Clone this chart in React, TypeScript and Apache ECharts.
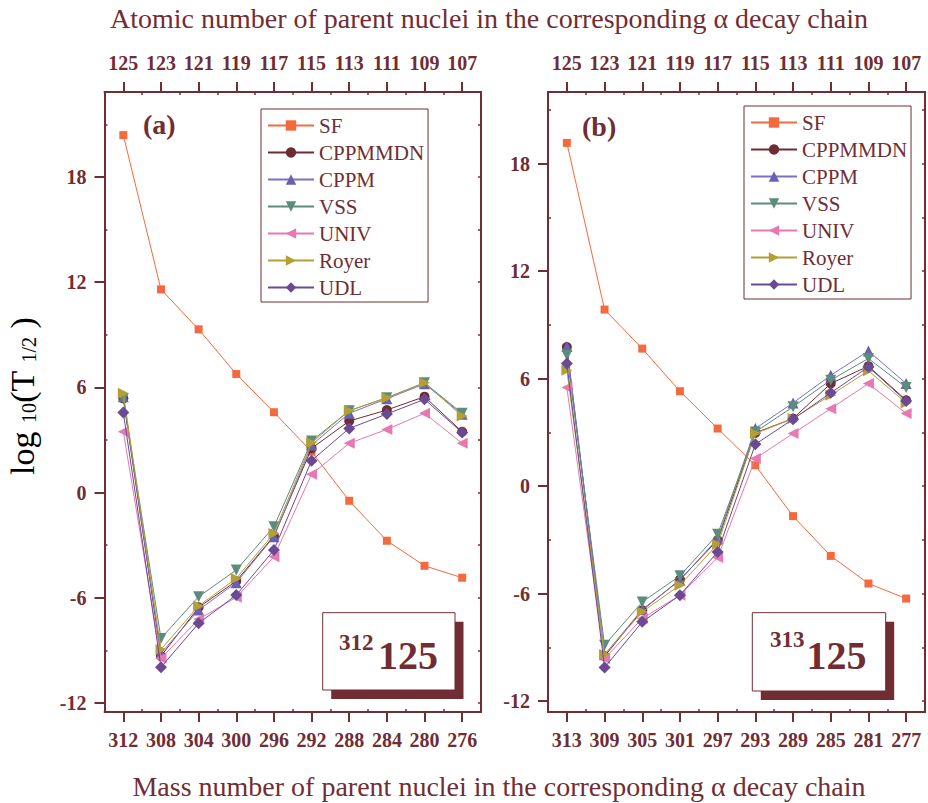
import React, { useEffect, useRef } from 'react';
import * as echarts from 'echarts';

// Categories
const massA = [312, 308, 304, 300, 296, 292, 288, 284, 280, 276];
const massB = [313, 309, 305, 301, 297, 293, 289, 285, 281, 277];
const atomic = [125, 123, 121, 119, 117, 115, 113, 111, 109, 107];
const seriesNames = ['SF', 'CPPMMDN', 'CPPM', 'VSS', 'UNIV', 'Royer', 'UDL'];

// Panel (a) values: log10(T1/2)
const sfA = [20.39, 11.59, 9.31, 6.76, 4.58, 2.33, -0.47, -2.75, -4.18, -4.86];
const cppmmdnA = [5.37, -9.33, -6.55, -5.05, -2.48, 2.52, 4.08, 4.71, 5.47, 3.47];
const cppmA = [5.47, -9.17, -6.7, -5.14, -2.52, 2.71, 4.52, 5.35, 6.2, 4.46];
const vssA = [5.37, -8.32, -5.94, -4.42, -1.95, 2.94, 4.67, 5.41, 6.26, 4.52];
const univA = [3.47, -9.46, -7.23, -5.98, -3.66, 1.04, 2.81, 3.6, 4.52, 2.81];
const royerA = [5.66, -8.95, -6.47, -4.9, -2.33, 2.84, 4.67, 5.41, 6.26, 4.36];
const udlA = [4.57, -9.97, -7.46, -5.85, -3.28, 1.82, 3.66, 4.48, 5.32, 3.42];

// Panel (b) values
const sfB = [19.16, 9.86, 7.68, 5.3, 3.22, 1.17, -1.67, -3.89, -5.43, -6.27];
const cppmmdnB = [7.77, -9.49, -6.92, -5.21, -3.01, 2.98, 3.78, 5.73, 6.7, 4.8];
const cppmB = [7.8, -9.4, -6.88, -5.25, -2.92, 3.22, 4.65, 6.19, 7.55, 5.73];
const vssB = [7.31, -8.87, -6.46, -5.0, -2.68, 3.03, 4.43, 5.92, 7.13, 5.51];
const univB = [5.51, -9.62, -7.38, -6.08, -3.98, 1.55, 2.94, 4.33, 5.73, 4.06];
const royerB = [6.47, -9.39, -7.01, -5.52, -3.24, 2.94, 3.78, 5.08, 6.44, 4.65];
const udlB = [6.85, -10.12, -7.57, -6.08, -3.67, 2.34, 3.74, 5.21, 6.66, 4.75];

// Tick values
const yMajor = [-12, -6, 0, 6, 12, 18];
const yMinor = [-9, -3, 3, 9, 15, 21];
const yAll = [-12, -9, -6, -3, 0, 3, 6, 9, 12, 15, 18, 21];
const xMajor = [0, 1, 2, 3, 4, 5, 6, 7, 8, 9];
const xMinor = [0.5, 1.5, 2.5, 3.5, 4.5, 5.5, 6.5, 7.5, 8.5];

const MAROON = '#702d33';
const FONT = 'Liberation Serif';

const styles: Record<string, { color: string; lineColor: string; symbol: string; size: number; rotate: number }> = {
  SF: { color: '#f26a3d', lineColor: '#f26a3d', symbol: 'rect', size: 8, rotate: 0 },
  CPPMMDN: { color: '#6e2c33', lineColor: '#6e2c33', symbol: 'circle', size: 10, rotate: 0 },
  CPPM: { color: '#6a60b2', lineColor: '#7a70c8', symbol: 'triangle', size: 11, rotate: 0 },
  VSS: { color: '#5c8c7c', lineColor: '#5c8c7c', symbol: 'triangle', size: 11, rotate: 180 },
  UNIV: { color: '#e878b0', lineColor: '#e878b0', symbol: 'triangle', size: 11, rotate: 90 },
  Royer: { color: '#b39f35', lineColor: '#b39f35', symbol: 'triangle', size: 11, rotate: -90 },
  UDL: { color: '#6b4a93', lineColor: '#6b4a93', symbol: 'diamond', size: 12, rotate: 0 },
};

const panelAData = [sfA, cppmmdnA, cppmA, vssA, univA, royerA, udlA];
const panelBData = [sfB, cppmmdnB, cppmB, vssB, univB, royerB, udlB];

const labelStyle = { color: MAROON, fontFamily: FONT, fontWeight: 'bold', fontSize: 20 };

function makeXAxes(gridIndex: number, masses: number[]) {
  return [
    {
      type: 'value', gridIndex, position: 'bottom', min: -0.5, max: 9.5,
      axisLine: { show: true, onZero: false, lineStyle: { color: MAROON, width: 2 } },
      axisTick: { show: true, inside: false, length: 10, customValues: xMajor, lineStyle: { color: MAROON, width: 2 } },
      axisLabel: {
        show: true, customValues: xMajor, margin: 18,
        formatter: (v: number) => String(masses[Math.round(v)]),
        ...labelStyle,
      },
      splitLine: { show: false },
    },
    {
      type: 'value', gridIndex, position: 'bottom', min: -0.5, max: 9.5,
      axisLine: { show: false, onZero: false },
      axisTick: { show: true, inside: true, length: 3, customValues: xMinor, lineStyle: { color: MAROON, width: 1.5 } },
      axisLabel: { show: false },
      splitLine: { show: false },
    },
    {
      type: 'value', gridIndex, position: 'top', min: -0.5, max: 9.5,
      axisLine: { show: true, onZero: false, lineStyle: { color: MAROON, width: 2 } },
      axisTick: { show: true, inside: false, length: 10, customValues: xMajor, lineStyle: { color: MAROON, width: 2 } },
      axisLabel: {
        show: true, customValues: xMajor, margin: 19,
        formatter: (v: number) => String(atomic[Math.round(v)]),
        ...labelStyle,
      },
      splitLine: { show: false },
    },
    {
      type: 'value', gridIndex, position: 'top', min: -0.5, max: 9.5,
      axisLine: { show: false, onZero: false },
      axisTick: { show: true, inside: true, length: 3, customValues: xMinor, lineStyle: { color: MAROON, width: 1.5 } },
      axisLabel: { show: false },
      splitLine: { show: false },
    },
  ];
}

function makeYAxes(gridIndex: number, min: number, max: number) {
  return [
    {
      type: 'value', gridIndex, position: 'left', min, max,
      axisLine: { show: true, onZero: false, lineStyle: { color: MAROON, width: 2 } },
      axisTick: { show: true, inside: false, length: 10, customValues: yMajor, lineStyle: { color: MAROON, width: 2 } },
      axisLabel: {
        show: true, customValues: yMajor, margin: 18,
        ...labelStyle,
      },
      splitLine: { show: false },
    },
    {
      type: 'value', gridIndex, position: 'left', min, max,
      axisLine: { show: false, onZero: false },
      axisTick: { show: true, inside: true, length: 3, customValues: yMinor, lineStyle: { color: MAROON, width: 1.5 } },
      axisLabel: { show: false },
      splitLine: { show: false },
    },
    {
      type: 'value', gridIndex, position: 'right', min, max,
      axisLine: { show: true, onZero: false, lineStyle: { color: MAROON, width: 2 } },
      axisTick: { show: true, inside: true, length: 3, customValues: yAll, lineStyle: { color: MAROON, width: 1.5 } },
      axisLabel: { show: false },
      splitLine: { show: false },
    },
  ];
}

function makeSeries(data: number[][], xAxisIndex: number, yAxisIndex: number) {
  return seriesNames.map((name, i) => {
    const s = styles[name];
    return {
      name,
      type: 'line',
      xAxisIndex,
      yAxisIndex,
      data: data[i].map((v, k) => [k, v]),
      symbol: s.symbol,
      symbolSize: s.size,
      symbolRotate: s.rotate,
      showSymbol: true,
      lineStyle: { color: s.lineColor, width: 1 },
      itemStyle: { color: s.color, borderWidth: 0 },
      emphasis: { disabled: true },
      z: 2 + i,
    };
  });
}

function makeLegend(left: number, top: number) {
  return {
    orient: 'vertical',
    left, top,
    data: seriesNames,
    itemWidth: 46,
    itemHeight: 13,
    itemGap: 6,
    padding: [6, 4, 4, 6],
    borderColor: MAROON,
    borderWidth: 1,
    textStyle: { color: MAROON, fontFamily: FONT, fontSize: 21, lineHeight: 20 },
    selectedMode: false,
  };
}

function nuclideBox(bx: number, by: number, w: number, h: number, sup: string, supX: number, supY: number, mainX: number, mainY: number) {
  return [
    { type: 'rect', shape: { x: bx + 8.5, y: by + 9, width: w, height: h }, style: { fill: MAROON }, z: 100 },
    { type: 'rect', shape: { x: bx, y: by, width: w, height: h }, style: { fill: '#ffffff', stroke: MAROON, lineWidth: 1 }, z: 101 },
    {
      type: 'text', x: supX, y: supY, z: 102,
      style: { text: sup, font: `bold 23px ${FONT}`, fill: MAROON, align: 'left', verticalAlign: 'middle', textAlign: 'left', textVerticalAlign: 'middle' },
    },
    {
      type: 'text', x: mainX, y: mainY, z: 102,
      style: { text: '125', font: `bold 40px ${FONT}`, fill: MAROON, align: 'left', verticalAlign: 'middle', textAlign: 'left', textVerticalAlign: 'middle' },
    },
  ];
}

export default function App() {
  const ref = useRef<HTMLDivElement>(null);
  useEffect(() => {
    if (!ref.current) return;
    const chart = echarts.init(ref.current, null, { renderer: 'svg' });
    const option = {
      animation: false,
      backgroundColor: '#ffffff',
      textStyle: { fontFamily: FONT },
      grid: [
        { left: 104.5, top: 92, width: 376.5, height: 620 },
        { left: 548, top: 92, width: 377, height: 620 },
      ],
      xAxis: [...makeXAxes(0, massA), ...makeXAxes(1, massB)],
      yAxis: [...makeYAxes(0, -12.52, 22.85), ...makeYAxes(1, -12.6, 22.0)],
      legend: [makeLegend(261, 109), makeLegend(744, 106)],
      series: [...makeSeries(panelAData, 0, 0), ...makeSeries(panelBData, 4, 3)],
      graphic: [
        {
          type: 'text', x: 489, y: 18,
          style: { text: 'Atomic number of parent nuclei in the corresponding α decay chain', font: `28px ${FONT}`, fill: MAROON, align: 'center', verticalAlign: 'middle', textAlign: 'center', textVerticalAlign: 'middle' },
        },
        {
          type: 'text', x: 499, y: 786,
          style: { text: 'Mass number of parent nuclei in the corresponding α decay chain', font: `28px ${FONT}`, fill: MAROON, align: 'center', verticalAlign: 'middle', textAlign: 'center', textVerticalAlign: 'middle' },
        },
        {
          type: 'text', x: 22, y: 396, rotation: Math.PI / 2,
          style: {
            text: '{m|log }{s|10}{m|(T }{s|1/2}{m| )}',
            align: 'center', verticalAlign: 'middle', textAlign: 'center', textVerticalAlign: 'middle',
            rich: {
              m: { fontFamily: FONT, fontSize: 34, color: MAROON, lineHeight: 34, verticalAlign: 'bottom' },
              s: { fontFamily: FONT, fontSize: 20, color: MAROON, lineHeight: 14, verticalAlign: 'bottom' },
            },
          },
        },
        {
          type: 'text', x: 143, y: 124,
          style: { text: '(a)', font: `bold 28px ${FONT}`, fill: MAROON, align: 'left', verticalAlign: 'middle', textAlign: 'left', textVerticalAlign: 'middle' },
        },
        {
          type: 'text', x: 582, y: 126,
          style: { text: '(b)', font: `bold 28px ${FONT}`, fill: MAROON, align: 'left', verticalAlign: 'middle', textAlign: 'left', textVerticalAlign: 'middle' },
        },
        ...nuclideBox(322.7, 612.7, 132.3, 77.3, '312', 339, 642, 378, 655),
        ...nuclideBox(752.3, 612.7, 133.4, 78.3, '313', 770, 639, 806.5, 655),
      ],
    };
    chart.setOption(option as any);
    return () => chart.dispose();
  }, []);
  return <div ref={ref} style={{ position: 'fixed', left: 0, top: 0, width: 928, height: 803 }} />;
}
